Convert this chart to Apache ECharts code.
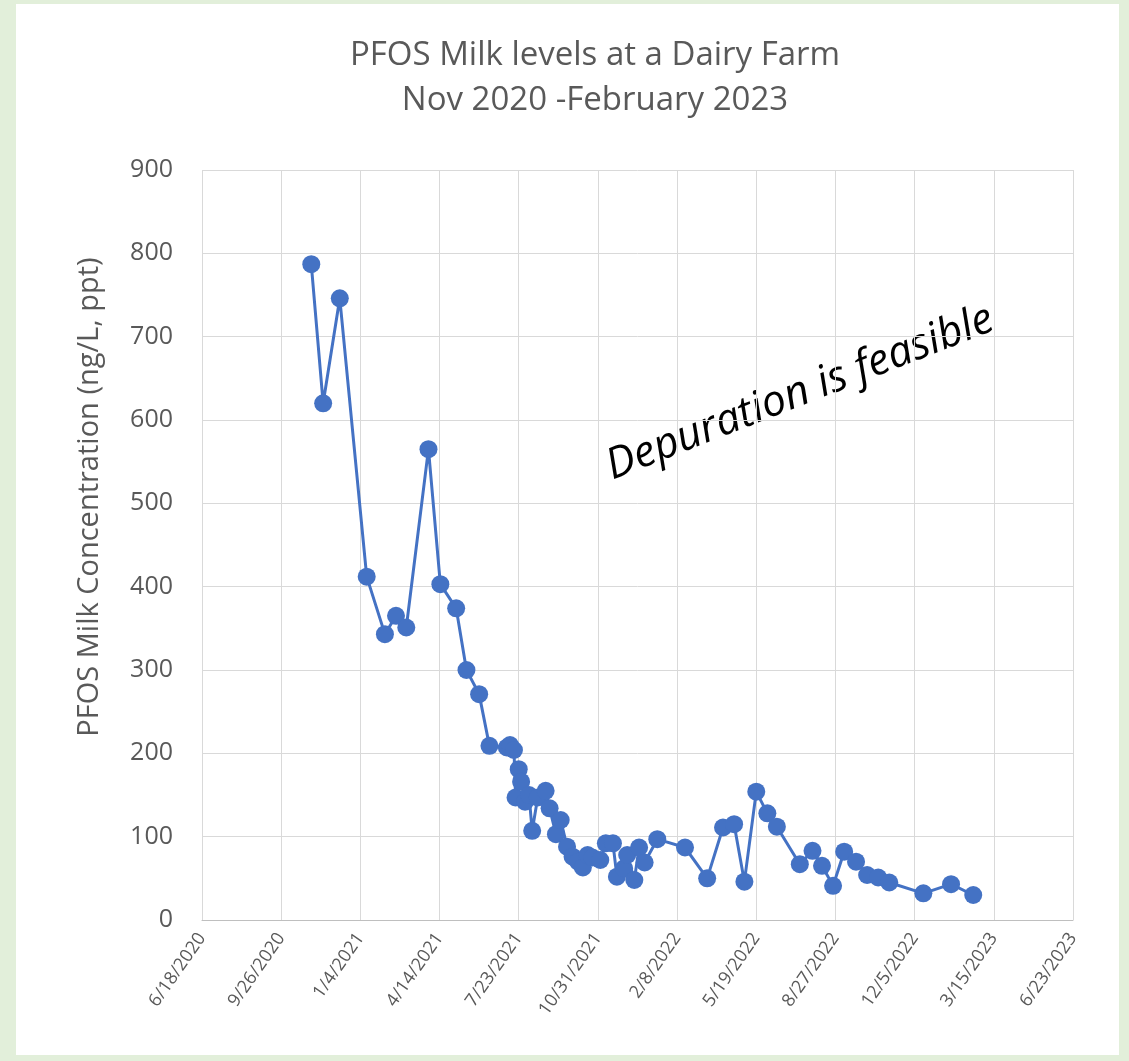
<!DOCTYPE html>
<html>
<head>
<meta charset="utf-8">
<script src="https://cdn.jsdelivr.net/npm/echarts@6/dist/echarts.min.js"></script>
<style>
  html, body { margin: 0; padding: 0; background: #e2efda; }
  #myChart { position: absolute; left: 16px; top: 4px; width: 1103px; height: 1051px; background: #fff; }
</style>
</head>
<body>
<div id="myChart"></div>
<script>
// sampling dates and PFOS milk levels (ng/L)
const sampleDates = [
  "2020-11-03", "2020-11-18", "2020-12-09", "2021-01-12", "2021-02-04", "2021-02-18",
  "2021-03-03", "2021-03-31", "2021-04-15", "2021-05-05", "2021-05-18", "2021-06-03",
  "2021-06-16", "2021-07-08", "2021-07-12", "2021-07-17", "2021-07-19", "2021-07-23",
  "2021-07-26", "2021-07-31", "2021-08-05", "2021-08-09", "2021-08-16", "2021-08-26",
  "2021-08-31", "2021-09-08", "2021-09-14", "2021-09-22", "2021-09-29", "2021-10-06",
  "2021-10-12", "2021-10-18", "2021-10-24", "2021-11-03", "2021-11-10", "2021-11-19",
  "2021-11-24", "2021-12-03", "2021-12-07", "2021-12-16", "2021-12-22", "2021-12-29",
  "2022-01-14", "2022-02-18", "2022-03-18", "2022-04-07", "2022-04-21", "2022-05-04",
  "2022-05-19", "2022-06-02", "2022-06-14", "2022-07-13", "2022-07-29", "2022-08-10",
  "2022-08-24", "2022-09-07", "2022-09-22", "2022-10-06", "2022-10-20", "2022-11-03",
  "2022-12-16", "2023-01-20", "2023-02-17"
];
const pfosLevels = [
  787, 620, 746, 412, 343, 365,
  351, 565, 403, 374, 300, 271,
  209, 207, 210, 204, 147, 181,
  166, 142, 150, 107, 147, 155,
  134, 103, 120, 88, 76, 70,
  63, 78, 75, 72, 92, 92,
  52, 62, 78, 48, 87, 69,
  97, 87, 50, 111, 115, 46,
  154, 128, 112, 67, 83, 65,
  41, 82, 70, 54, 51, 45,
  32, 43, 30
];
const axisStart = "2020-06-18";
const axisEnd = "2023-06-23";
const yTicks = [0, 100, 200, 300, 400, 500, 600, 700, 800, 900];

const DAY = 86400000;
const t0 = Date.parse(axisStart + "T00:00:00Z");
const toDay = s => Math.round((Date.parse(s + "T00:00:00Z") - t0) / DAY);
const fmtDay = v => {
  const d = new Date(t0 + v * DAY);
  return (d.getUTCMonth() + 1) + "/" + d.getUTCDate() + "/" + d.getUTCFullYear();
};

const data = sampleDates.map((s, i) => [toDay(s), pfosLevels[i]]);

const grey = "#595959";
const font = "Open Sans";

const myChart = echarts.init(document.getElementById("myChart"));

const option = {
  animation: false,
  textStyle: { fontFamily: font },
  title: {
    text: "PFOS Milk levels at a Dairy Farm\nNov 2020 -February 2023",
    left: 574,
    textAlign: "center",
    top: 24,
    textStyle: { fontFamily: font, fontSize: 33, fontWeight: "normal", color: grey, lineHeight: 45 }
  },
  grid: { left: 186, right: 46, top: 166, bottom: 135 },
  xAxis: {
    type: "value",
    min: 0,
    max: toDay(axisEnd),
    interval: 100,
    axisLine: { show: true, lineStyle: { color: "#bfbfbf", width: 1 } },
    axisTick: { show: false },
    splitLine: { show: true, lineStyle: { color: "#d9d9d9", width: 1 } },
    axisLabel: {
      rotate: 55,
      margin: 15,
      fontFamily: font,
      fontSize: 18,
      color: grey,
      formatter: fmtDay
    }
  },
  yAxis: {
    type: "value",
    min: yTicks[0],
    max: yTicks[yTicks.length - 1],
    interval: 100,
    name: "PFOS Milk Concentration (ng/L, ppt)",
    nameLocation: "middle",
    nameGap: 98,
    nameTextStyle: { fontFamily: font, fontSize: 29, color: grey, padding: [0, 0, 0, 96] },
    axisLine: { show: false },
    axisTick: { show: false },
    splitLine: { show: true, lineStyle: { color: "#d9d9d9", width: 1 } },
    axisLabel: { margin: 29, fontFamily: font, fontSize: 25, color: grey }
  },
  series: [{
    name: "PFOS",
    type: "line",
    data: data,
    symbol: "circle",
    symbolSize: 18,
    itemStyle: { color: "#4472C4" },
    lineStyle: { color: "#4472C4", width: 3 }
  }],
  graphic: [{
    type: "text",
    x: 784,
    y: 389,
    rotation: 21.4 * Math.PI / 180,
    style: {
      text: "Depuration is feasible",
      fontFamily: font,
      fontStyle: "italic",
      fontSize: 43,
      fill: "#000",
      align: "center",
      verticalAlign: "middle"
    }
  }]
};

myChart.setOption(option);
window.addEventListener("resize", function() {
  if (myChart != null && myChart != undefined) {
    myChart.resize();
  }
});
</script>
</body>
</html>
